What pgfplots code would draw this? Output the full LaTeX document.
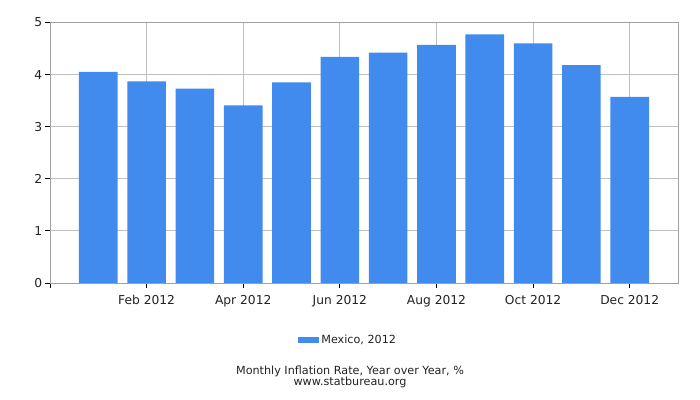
\documentclass[border=0pt]{standalone}
\usepackage{fontspec}
\setmainfont{DejaVu Sans}
\usepackage{pgfplots}
\pgfplotsset{compat=1.18}
\definecolor{barblue}{HTML}{418BEF}
\definecolor{gridgray}{HTML}{C0C0C0}
\definecolor{framegray}{HTML}{A0A0A0}
\definecolor{txt}{HTML}{222222}

\begin{document}
\begin{tikzpicture}[x=0.75pt,y=0.75pt]
\path[use as bounding box] (0,0) rectangle (700,400);
\begin{axis}[
    at={(37.5pt,87.75pt)}, anchor=south west,
    scale only axis,
    width=471pt, height=195.4pt,
    xmin=0, xmax=13,
    ymin=0, ymax=5,
    ybar, bar width=0.8,
    xtick={0,2,4,6,8,10,12},
    xticklabels={,Feb 2012,Apr 2012,Jun 2012,Aug 2012,Oct 2012,Dec 2012},
    ytick={0,1,2,3,4,5},
    xtick pos=bottom, ytick pos=left,
    tick align=outside,
    major tick length=3.75pt,
    tick style={black, line width=0.6pt},
    grid=major,
    major grid style={gridgray, line width=0.6pt},
    axis line style={framegray, line width=0.6pt},
    ticklabel style={font=\fontsize{9.2}{11}\selectfont, text=txt},
    /pgf/number format/assume math mode=true,
    xticklabel style={yshift=-2.2pt},
    yticklabel style={xshift=1.5pt},
    legend style={at={(0.475,-0.219)}, anchor=center, draw=none,
        font=\fontsize{8.4}{10}\selectfont, text=txt},
    legend image code/.code={\fill[barblue] (0cm,-0.09cm) rectangle (0.55cm,0.09cm);},
]
\addplot[fill=barblue, draw=none] coordinates {
    (1,4.05) (2,3.87) (3,3.73) (4,3.41) (5,3.85) (6,4.34)
    (7,4.42) (8,4.57) (9,4.77) (10,4.60) (11,4.18) (12,3.57)
};
\addlegendentry{Mexico, 2012}
\end{axis}
\node[text=txt, font=\fontsize{8.4}{10}\selectfont] at (350,28.5) {Monthly Inflation Rate, Year over Year, \%};
\node[text=txt, font=\fontsize{8.4}{10}\selectfont] at (350,18) {www.statbureau.org};
\end{tikzpicture}
\end{document}
